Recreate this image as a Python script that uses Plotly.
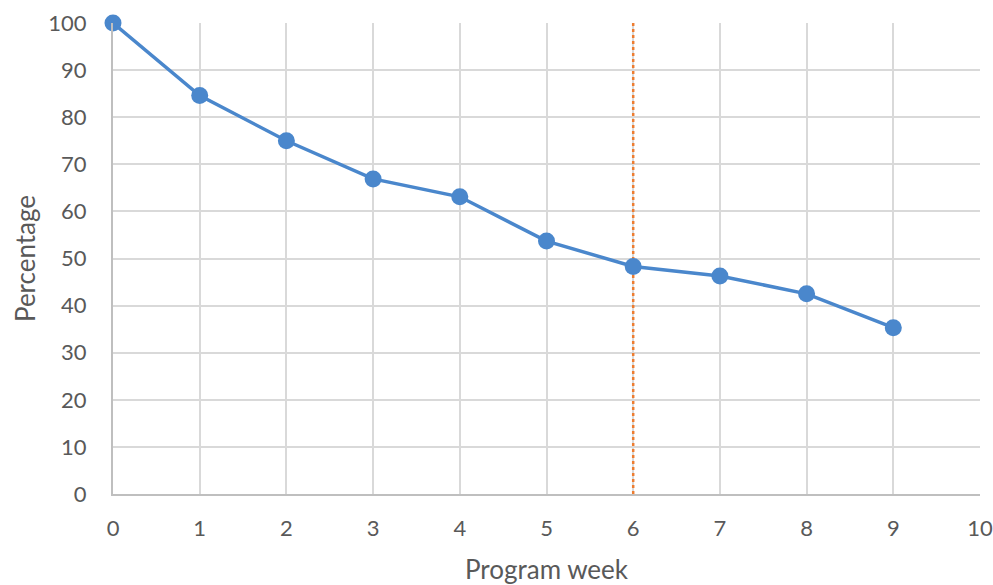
import plotly.graph_objects as go

weeks = [0, 1, 2, 3, 4, 5, 6, 7, 8, 9]
percentage = [100, 84.6, 75.0, 66.9, 63.1, 53.7, 48.3, 46.3, 42.5, 35.3]
marker_week = 6
x_ticks = list(range(0, 11))
y_ticks = list(range(0, 101, 10))

fig = go.Figure()
fig.add_trace(go.Scatter(
    x=[marker_week, marker_week], y=[0, 100], mode="lines",
    line=dict(color="#ED7D31", width=2.5, dash="dot"), showlegend=False, hoverinfo="skip"))
fig.add_trace(go.Scatter(
    x=weeks, y=percentage, mode="lines+markers", cliponaxis=False,
    line=dict(color="#4A87CC", width=3.5),
    marker=dict(size=17, color="#4A87CC"), showlegend=False))

fnt = dict(family="Lato, 'Open Sans', sans-serif", size=22, color="#595959")
fig.update_layout(
    width=993, height=585, plot_bgcolor="white", paper_bgcolor="white",
    margin=dict(l=113, r=13, t=23, b=91),
    font=fnt,
    xaxis=dict(range=[0, 10], tickvals=x_ticks, showgrid=True, gridcolor="#D9D9D9", gridwidth=2,
               showline=True, linecolor="#BFBFBF", linewidth=2, zeroline=False, automargin=False,
               ticks="", ticklen=0, title=dict(text="Program week", font=dict(size=26), standoff=24),
               ticklabelstandoff=14, ticklabeloverflow="allow"),
    yaxis=dict(range=[0, 100], tickvals=y_ticks, showgrid=True, gridcolor="#D9D9D9", gridwidth=2,
               showline=True, linecolor="#BFBFBF", linewidth=2, zeroline=False, automargin=False,
               ticks="", ticklabelstandoff=20,
               title=dict(text="Percentage", font=dict(size=26), standoff=5)),
)
fig.write_html("out.html", config={"displayModeBar": False},
               post_script="document.body.style.margin='0';document.body.style.overflow='hidden';")
